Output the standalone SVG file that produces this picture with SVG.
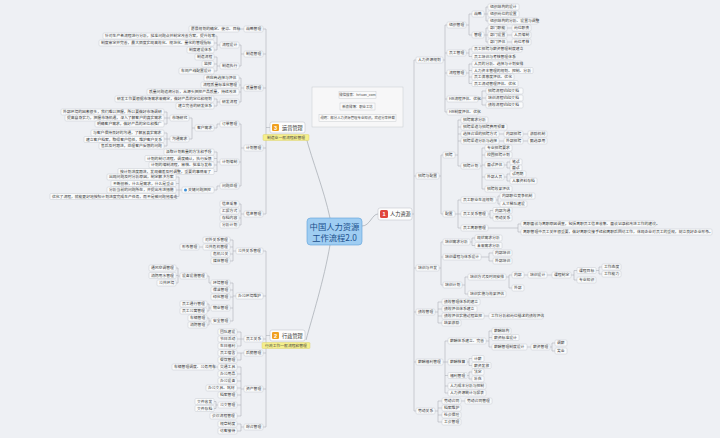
<svg xmlns="http://www.w3.org/2000/svg" width="720" height="438" viewBox="0 0 720 438">
<style>
.nd rect{fill:#fafbfc;stroke:#c2c6cd;stroke-width:.45}
.nd text{font-family:"Noto Sans CJK SC","Noto Sans",sans-serif;font-size:3.8px;fill:#333}
.c path{fill:none;stroke:#a2a7af;stroke-width:.5}
.m path{fill:none;stroke:#a2a7af;stroke-width:.7}
.main rect.b{fill:#fdfdfd;stroke:#b8bcc4;stroke-width:.5}
.main text.l{font-family:"Noto Sans CJK SC","Noto Sans",sans-serif;font-size:5.2px;fill:#333}
.main text.i{font-family:"Liberation Sans",sans-serif;font-size:5.5px;font-weight:bold;fill:#fff;text-anchor:middle}
.tag rect{fill:#f5ef8c;stroke:#d6cb5c;stroke-width:.4}
.tag text{font-family:"Noto Sans CJK SC",sans-serif;font-size:3.8px;fill:#444;text-anchor:middle}
.info text{font-family:"Noto Sans CJK SC","Noto Sans",sans-serif;font-size:3.4px;fill:#444;text-anchor:middle}
.info rect.r{fill:#fafafa;stroke:#bfc3c9;stroke-width:.4}
</style>
<rect width="720" height="438" fill="#eef0f4"/>

<g class="m">
<path d="M330 218C324 190 312 160 306 137"/>
<path d="M330 245C324 280 312 318 306 340"/>
<path d="M362 226C370 226 372 214 378 214"/>
</g>

<g class="c">
<!-- right: 人力资源 -->
<path d="M412 214H414M414 60V411M414 60H416M414 176H416M414 268H416M414 312H416M414 362H416M414 411H416"/>
<path d="M443 60H445M445 25V112M445 25H447M445 53H447M445 73H447M445 99H447M445 112H447"/>
<path d="M466 25H469M469 14V35M469 14H472M469 35H472"/>
<path d="M484 14H488M486 7V21M486 7H488M486 21H488"/>
<path d="M484 35H488M486 28V42M486 28H488M486 42H488"/>
<path d="M507 28H512M507 35H512M507 42H512"/>
<path d="M466 53H469M469 49V56.5M469 49H472M469 56.5H472"/>
<path d="M466 73H469M469 64V83.5M469 64H472M469 70.5H472M469 77H472M469 83.5H472"/>
<path d="M478 99H482M482 91V105M482 91H486M482 98H486M482 105H486"/>
<path d="M439 176H441M441 155V214M441 155H443M441 214H443"/>
<path d="M455 155H458M458 120V166M458 120H461M458 127H461M458 134H461M458 141H461M458 166H461"/>
<path d="M499 134H504M523 134H528M499 141H504M523 141H528"/>
<path d="M480 166H482M482 148V189M482 148H485M482 155H485M482 165H485M482 177H485M482 189H485"/>
<path d="M504 165H507M507 162V168M507 162H510M507 168H510"/>
<path d="M504 177H507M507 174V181M507 174H510M507 181H510"/>
<path d="M455 214H458M458 200V228M458 200H461M458 214H461M458 228H461"/>
<path d="M496 200H498M498 196V204M498 196H500M498 204H500"/>
<path d="M488 214H490M490 210.5V218M490 210.5H493M490 218H493"/>
<path d="M488 228H518M518 224V232M518 224H521M518 232H521"/>
<path d="M439 268H441M441 242V285M441 242H443M441 257H443M441 285H443"/>
<path d="M470 242H472M472 238V245.5M472 238H475M472 245.5H475"/>
<path d="M481 257H489M489 253V261M489 253H493M489 261H493"/>
<path d="M462 285H465M465 277V294M465 277H468M465 294H468"/>
<path d="M506 277H509M509 275V288M509 275H512M509 288H512"/>
<path d="M524 275H528M547 275H552M571 275H574M574 270.5V280M574 270.5H577M574 280H577"/>
<path d="M596 270.5H599M599 267V274M599 267H602M599 274H602"/>
<path d="M435 312H438M438 302V323M438 302H442M438 309H442M438 316H442M438 323H442M484 316H489"/>
<path d="M443 362H445M445 341V393M445 341H448M445 362H448M445 375.5H448M445 386H448M445 393H448"/>
<path d="M486 341H489M489 331V347M489 331H492M489 337.5H492M489 347H492M527 347H531"/>
<path d="M550 347H552M552 343V351M552 343H555M552 351H555"/>
<path d="M467 362H469M469 358.5V365.5M469 358.5H472M469 365.5H472"/>
<path d="M467 375.5H469M469 372V379M469 372H472M469 379H472"/>
<path d="M435 411H438M438 401V422M438 401H442M438 408H442M438 415H442M438 422H442M461 401H465"/>
<!-- left: 运营管理 -->
<path d="M270 127.5H266M266 29V214M266 29H263M266 54H263M266 88H263M266 148H263M266 214H263"/>
<path d="M244 29H239"/>
<path d="M244 54H241M241 45V66M241 45H239M241 66H239"/>
<path d="M220 45H217M217 36V50M217 36H214M217 43H214M217 50H214"/>
<path d="M220 66H217M217 57V71M217 57H214M217 64H214M217 71H214"/>
<path d="M244 88H241M241 78V102M241 78H239M241 85H239M241 92H239M241 102H239"/>
<path d="M220 102H217M217 99V106M217 99H214M217 106H214"/>
<path d="M244 148H241M241 124V186M241 124H239M241 162H239M241 186H239"/>
<path d="M220 124H217M217 124V128M217 128H214"/>
<path d="M195 128H192M192 118V139M192 118H189M192 139H189"/>
<path d="M170 118H164M167 112V124M167 112H164M167 124H164"/>
<path d="M170 139H164M167 133V146M167 133H164M167 146H164"/>
<path d="M220 162H217M217 152V171.5M217 152H214M217 158.5H214M217 165H214M217 171.5H214"/>
<path d="M220 186H217M217 186V190M217 190H214"/>
<path d="M182 190H176M179 177V196.5M179 177H176M179 183.5H176M179 196.5H176"/>
<path d="M244 214H241M241 204V225M241 204H239M241 211H239M241 218H239M241 225H239"/>
<!-- left: 行政管理 -->
<path d="M270 335.5H266M266 251V427M266 251H263M266 296H263M266 339H263M266 353H263M266 389H263M266 427H263"/>
<path d="M236 251H233M233 240V261M233 240H230M233 247H230M233 254H230M233 261H230M203 247H199"/>
<path d="M236 296H233M233 283V321M233 283H230M233 290H230M233 297H230M233 308H230M233 321H230"/>
<path d="M211 283H209M209 283V276M209 276H207"/>
<path d="M180 276H178M178 268V283M178 268H176M178 275.5H176M178 283H176"/>
<path d="M211 308H209M209 304V311M209 304H207M209 311H207"/>
<path d="M211 321H209M209 318V325M209 318H207M209 325H207"/>
<path d="M244 339H241M241 332V346M241 332H237M241 339H237M241 346H237"/>
<path d="M244 353H237M241 353V360M241 360H237"/>
<path d="M244 389H241M241 367V416M241 367H237M241 374H237M241 381H237M241 388H237M241 395H237M241 405H237M241 416H237M218 367H214"/>
<path d="M218 405H216M216 401.5V408.5M216 401.5H214M216 408.5H214"/>
<path d="M244 427H241M241 424V431M241 424H237M241 431H237"/>
</g>

<g id="center">
<rect x="307" y="218" width="55" height="27" rx="3.5" fill="#9fcdf2" stroke="#5c9fd8" stroke-width=".6"/>
<text x="334.5" y="230" font-family="Noto Sans CJK SC,sans-serif" font-size="8.3" fill="#1b4f8c" text-anchor="middle">中国人力资源</text>
<text x="334.5" y="240.5" font-family="Noto Sans CJK SC,sans-serif" font-size="8.3" fill="#1b4f8c" text-anchor="middle">工作流程2.0</text>
</g>

<g id="info" class="info">
<rect x="312" y="87" width="91" height="40" fill="#f7f7f8" stroke="#c6c9ce" stroke-width=".5"/>
<rect class="r" x="339" y="91.5" width="37" height="7"/><text x="357.5" y="96.3">微信搜索：hrtuan_com</text>
<rect class="r" x="340" y="103" width="35" height="7"/><text x="357.5" y="107.8">新浪微博：职业工坊</text>
<rect class="r" x="319" y="114.5" width="77" height="7"/><text x="357.5" y="119.3">说明：部分人力资源管理专业知识，欢迎分享转载</text>
</g>

<g id="hr" class="main">
<rect class="b" x="378" y="208" width="34" height="12" rx="2"/>
<rect x="380" y="210" width="8" height="8" rx="1.5" fill="#e0463c"/>
<text class="i" x="384" y="216">1</text>
<text class="l" x="390" y="216.1">人力资源</text>
</g>
<g id="ops" class="main">
<rect class="b" x="270" y="122" width="35" height="11" rx="2"/>
<rect x="272" y="124" width="7" height="7" rx="1.3" fill="#f0a020"/>
<text class="i" x="275.5" y="129.6">3</text>
<text class="l" x="282" y="129.6">运营管理</text>
</g>
<g id="ops-tag" class="tag"><rect x="263" y="134.5" width="46" height="6" rx="1"/><text x="286" y="138.9">制造业一般流程和管理</text></g>
<g id="adm" class="main">
<rect class="b" x="270" y="330" width="35" height="11" rx="2"/>
<rect x="272" y="332" width="7" height="7" rx="1.3" fill="#f0a020"/>
<text class="i" x="275.5" y="337.6">2</text>
<text class="l" x="282" y="337.6">行政管理</text>
</g>
<g id="adm-tag" class="tag"><rect x="262" y="342.5" width="48" height="6" rx="1"/><text x="286" y="346.9">行政工作一般流程和管理</text></g>

<g class="nd">
<!-- 人力资源规划 -->
<g id="r1"><rect x="416" y="57" width="27" height="6" rx="1"/><text x="418" y="61.35">人力资源规划</text></g>
<g id="r1a"><rect x="447" y="22" width="19" height="6" rx="1"/><text x="449" y="26.35">组织管理</text></g>
<g id="r1a1"><rect x="472" y="11" width="12" height="6" rx="1"/><text x="474" y="15.35">战略</text></g>
<g id="r1a2"><rect x="472" y="32" width="12" height="6" rx="1"/><text x="474" y="36.35">管理</text></g>
<g id="r1a1a"><rect x="488" y="4" width="31" height="6" rx="1"/><text x="490" y="8.35">组织结构的设计</text></g>
<g id="r1a1b"><rect x="488" y="11" width="31" height="6" rx="1"/><text x="490" y="15.35">组织岗位的设置</text></g>
<g id="r1a1c"><rect x="488" y="18" width="50" height="6" rx="1"/><text x="490" y="22.35">组织结构的分析、设置与调整</text></g>
<g id="r1a2a"><rect x="488" y="25" width="19" height="6" rx="1"/><text x="490" y="29.35">部门职能</text></g>
<g id="r1a2a1"><rect x="512" y="25" width="19" height="6" rx="1"/><text x="514" y="29.35">岗位职责</text></g>
<g id="r1a2b"><rect x="488" y="32" width="19" height="6" rx="1"/><text x="490" y="36.35">部门设置</text></g>
<g id="r1a2b1"><rect x="512" y="32" width="19" height="6" rx="1"/><text x="514" y="36.35">人员编制</text></g>
<g id="r1a2c"><rect x="488" y="39" width="19" height="6" rx="1"/><text x="490" y="43.35">部门评估</text></g>
<g id="r1a2c1"><rect x="512" y="39" width="19" height="6" rx="1"/><text x="514" y="43.35">岗位考核</text></g>
<g id="r1b"><rect x="447" y="50" width="19" height="6" rx="1"/><text x="449" y="54.35">员工管理</text></g>
<g id="r1b1"><rect x="472" y="46" width="50" height="6" rx="1"/><text x="474" y="50.35">员工招聘与薪资管理制度建立</text></g>
<g id="r1b2"><rect x="472" y="53.5" width="42" height="6" rx="1"/><text x="474" y="57.85">员工培训与考核管理体系</text></g>
<g id="r1c"><rect x="447" y="70" width="19" height="6" rx="1"/><text x="449" y="74.35">流程管理</text></g>
<g id="r1c1"><rect x="472" y="61" width="50" height="6" rx="1"/><text x="474" y="65.35">人员的分析、选择与计划安排</text></g>
<g id="r1c2"><rect x="472" y="67.5" width="61" height="6" rx="1"/><text x="474" y="71.85">人力资本管理的规划、控制、分析</text></g>
<g id="r1c3"><rect x="472" y="74" width="42" height="6" rx="1"/><text x="474" y="78.35">员工满意度评估、优化</text></g>
<g id="r1c4"><rect x="472" y="80.5" width="46" height="6" rx="1"/><text x="474" y="84.85">员工流动管理评估、优化</text></g>
<g id="r1d"><rect x="447" y="96" width="31" height="6" rx="1"/><text x="449" y="100.35">HR流程评估、优化</text></g>
<g id="r1d1"><rect x="486" y="88" width="37" height="6" rx="1"/><text x="488" y="92.35">招聘流程visio文档</text></g>
<g id="r1d2"><rect x="486" y="95" width="37" height="6" rx="1"/><text x="488" y="99.35">培训流程visio文档</text></g>
<g id="r1d3"><rect x="486" y="102" width="37" height="6" rx="1"/><text x="488" y="106.35">绩效流程visio文档</text></g>
<g id="r1e"><rect x="447" y="109" width="31" height="6" rx="1"/><text x="449" y="113.35">HR制度评估、优化</text></g>
<!-- 招聘与配置 -->
<g id="r2"><rect x="416" y="173" width="23" height="6" rx="1"/><text x="418" y="177.35">招聘与配置</text></g>
<g id="r2a"><rect x="443" y="152" width="12" height="6" rx="1"/><text x="445" y="156.35">招聘</text></g>
<g id="r2a1"><rect x="461" y="117" width="27" height="6" rx="1"/><text x="463" y="121.35">招聘需求分析</text></g>
<g id="r2a2"><rect x="461" y="124" width="46" height="6" rx="1"/><text x="463" y="128.35">招聘渠道与招聘费用预算</text></g>
<g id="r2a3"><rect x="461" y="131" width="38" height="6" rx="1"/><text x="463" y="135.35">选择合适的招聘方式</text></g>
<g id="r2a3a"><rect x="504" y="131" width="19" height="6" rx="1"/><text x="506" y="135.35">内部招聘</text></g>
<g id="r2a3b"><rect x="528" y="131" width="19" height="6" rx="1"/><text x="530" y="135.35">激励机制</text></g>
<g id="r2a4"><rect x="461" y="138" width="38" height="6" rx="1"/><text x="463" y="142.35">招聘渠道分析与选择</text></g>
<g id="r2a4a"><rect x="504" y="138" width="19" height="6" rx="1"/><text x="506" y="142.35">外部招聘</text></g>
<g id="r2a4b"><rect x="528" y="138" width="19" height="6" rx="1"/><text x="530" y="142.35">甄选录用</text></g>
<g id="r2a5"><rect x="461" y="163" width="19" height="6" rx="1"/><text x="463" y="167.35">招聘计划</text></g>
<g id="r2a5a"><rect x="485" y="145" width="27" height="6" rx="1"/><text x="487" y="149.35">专业招聘要求</text></g>
<g id="r2a5b"><rect x="485" y="152" width="27" height="6" rx="1"/><text x="487" y="156.35">校园招聘计划</text></g>
<g id="r2a5c"><rect x="485" y="162" width="19" height="6" rx="1"/><text x="487" y="166.35">面试评估</text></g>
<g id="r2a5c1"><rect x="510" y="159" width="12" height="6" rx="1"/><text x="512" y="163.35">笔试</text></g>
<g id="r2a5c2"><rect x="510" y="165" width="12" height="6" rx="1"/><text x="512" y="169.35">面试</text></g>
<g id="r2a5d"><rect x="485" y="174" width="19" height="6" rx="1"/><text x="487" y="178.35">外部人员</text></g>
<g id="r2a5d1"><rect x="510" y="171" width="16" height="6" rx="1"/><text x="512" y="175.35">试用期</text></g>
<g id="r2a5d2"><rect x="510" y="178" width="27" height="6" rx="1"/><text x="512" y="182.35">人事资料存档</text></g>
<g id="r2a5e"><rect x="485" y="186" width="27" height="6" rx="1"/><text x="487" y="190.35">招聘效果评估</text></g>
<g id="r2b"><rect x="443" y="211" width="12" height="6" rx="1"/><text x="445" y="215.35">配置</text></g>
<g id="r2b1"><rect x="461" y="197" width="35" height="6" rx="1"/><text x="463" y="201.35">员工职业生涯规划</text></g>
<g id="r2b1a"><rect x="500" y="193" width="35" height="6" rx="1"/><text x="502" y="197.35">内部职位竞争机制</text></g>
<g id="r2b1b"><rect x="500" y="201" width="27" height="6" rx="1"/><text x="502" y="205.35">人才梯队建设</text></g>
<g id="r2b2"><rect x="461" y="211" width="27" height="6" rx="1"/><text x="463" y="215.35">员工关系管理</text></g>
<g id="r2b2a"><rect x="493" y="207.5" width="19" height="6" rx="1"/><text x="495" y="211.85">内部沟通</text></g>
<g id="r2b2b"><rect x="493" y="215" width="19" height="6" rx="1"/><text x="495" y="219.35">劳动关系</text></g>
<g id="r2b3"><rect x="461" y="225" width="27" height="6" rx="1"/><text x="463" y="229.35">员工离职管理</text></g>
<g id="r2b3a"><rect x="521" y="221" width="134" height="6" rx="1"/><text x="523" y="225.35">离职面谈与离职原因调查，包括离职员工信息收集、面谈记录和改进工作的建议。</text></g>
<g id="r2b3b"><rect x="521" y="229" width="191" height="6" rx="1"/><text x="523" y="233.35">离职管理中员工关怀很重要，做好离职交接手续和离职后回访工作，体现企业对员工的重视，树立良好企业形象。</text></g>
<!-- 培训与开发 -->
<g id="r3"><rect x="416" y="265" width="23" height="6" rx="1"/><text x="418" y="269.35">培训与开发</text></g>
<g id="r3a"><rect x="443" y="239" width="27" height="6" rx="1"/><text x="445" y="243.35">培训需求分析</text></g>
<g id="r3a1"><rect x="475" y="235" width="27" height="6" rx="1"/><text x="477" y="239.35">现状需求分析</text></g>
<g id="r3a2"><rect x="475" y="242.5" width="27" height="6" rx="1"/><text x="477" y="246.85">未来需求分析</text></g>
<g id="r3b"><rect x="443" y="254" width="38" height="6" rx="1"/><text x="445" y="258.35">培训课程与体系设计</text></g>
<g id="r3b1"><rect x="493" y="250" width="19" height="6" rx="1"/><text x="495" y="254.35">内部培训</text></g>
<g id="r3b2"><rect x="493" y="258" width="19" height="6" rx="1"/><text x="495" y="262.35">外部培训</text></g>
<g id="r3c"><rect x="443" y="282" width="19" height="6" rx="1"/><text x="445" y="286.35">培训计划</text></g>
<g id="r3c1"><rect x="468" y="274" width="38" height="6" rx="1"/><text x="470" y="278.35">培训方式及时间安排</text></g>
<g id="r3c1a"><rect x="512" y="272" width="12" height="6" rx="1"/><text x="514" y="276.35">内部</text></g>
<g id="r3c1b"><rect x="512" y="285" width="12" height="6" rx="1"/><text x="514" y="289.35">外部</text></g>
<g id="r3c1a1"><rect x="528" y="272" width="19" height="6" rx="1"/><text x="530" y="276.35">培训设计</text></g>
<g id="r3c1a2"><rect x="552" y="272" width="19" height="6" rx="1"/><text x="554" y="276.35">课程制定</text></g>
<g id="r3c1a3"><rect x="577" y="267.5" width="19" height="6" rx="1"/><text x="579" y="271.85">课程目标</text></g>
<g id="r3c1a4"><rect x="577" y="277" width="19" height="6" rx="1"/><text x="579" y="281.35">专业知识</text></g>
<g id="r3c1a3a"><rect x="602" y="264" width="19" height="6" rx="1"/><text x="604" y="268.35">工作态度</text></g>
<g id="r3c1a3b"><rect x="602" y="271" width="19" height="6" rx="1"/><text x="604" y="275.35">工作能力</text></g>
<g id="r3c2"><rect x="468" y="291" width="38" height="6" rx="1"/><text x="470" y="295.35">培训实施与效果评估</text></g>
<!-- 绩效管理 -->
<g id="r4"><rect x="416" y="309" width="19" height="6" rx="1"/><text x="418" y="313.35">绩效管理</text></g>
<g id="r4a"><rect x="442" y="299" width="38" height="6" rx="1"/><text x="444" y="303.35">绩效管理体系的建立</text></g>
<g id="r4b"><rect x="442" y="306" width="35" height="6" rx="1"/><text x="444" y="310.35">绩效评估体系建立</text></g>
<g id="r4c"><rect x="442" y="313" width="42" height="6" rx="1"/><text x="444" y="317.35">绩效评估实施过程监控</text></g>
<g id="r4c1"><rect x="489" y="313" width="54" height="6" rx="1"/><text x="491" y="317.35">工作分析和岗位描述的绩效评估</text></g>
<g id="r4d"><rect x="442" y="320" width="19" height="6" rx="1"/><text x="444" y="324.35">结果激励</text></g>
<!-- 薪酬福利管理 -->
<g id="r5"><rect x="416" y="359" width="27" height="6" rx="1"/><text x="418" y="363.35">薪酬福利管理</text></g>
<g id="r5a"><rect x="448" y="338" width="38" height="6" rx="1"/><text x="450" y="342.35">薪酬体系建立、完善</text></g>
<g id="r5a1"><rect x="492" y="328" width="19" height="6" rx="1"/><text x="494" y="332.35">薪酬结构</text></g>
<g id="r5a2"><rect x="492" y="334.5" width="27" height="6" rx="1"/><text x="494" y="338.85">薪资标准设计</text></g>
<g id="r5a3"><rect x="492" y="344" width="35" height="6" rx="1"/><text x="494" y="348.35">薪酬管理制度设计</text></g>
<g id="r5a3a"><rect x="531" y="344" width="19" height="6" rx="1"/><text x="533" y="348.35">薪资管理</text></g>
<g id="r5a3b"><rect x="555" y="340" width="12" height="6" rx="1"/><text x="557" y="344.35">调薪</text></g>
<g id="r5a3c"><rect x="555" y="348" width="12" height="6" rx="1"/><text x="557" y="352.35">奖金</text></g>
<g id="r5b"><rect x="448" y="359" width="19" height="6" rx="1"/><text x="450" y="363.35">薪酬核算</text></g>
<g id="r5b1"><rect x="472" y="355.5" width="12" height="6" rx="1"/><text x="474" y="359.85">计薪</text></g>
<g id="r5b2"><rect x="472" y="362.5" width="19" height="6" rx="1"/><text x="474" y="366.85">薪资发放</text></g>
<g id="r5c"><rect x="448" y="372.5" width="19" height="6" rx="1"/><text x="450" y="376.85">福利管理</text></g>
<g id="r5c1"><rect x="472" y="369" width="12" height="6" rx="1"/><text x="474" y="373.35">法定</text></g>
<g id="r5c2"><rect x="472" y="376" width="12" height="6" rx="1"/><text x="474" y="380.35">补充</text></g>
<g id="r5d"><rect x="448" y="383" width="38" height="6" rx="1"/><text x="450" y="387.35">人力成本分析与控制</text></g>
<g id="r5e"><rect x="448" y="390" width="38" height="6" rx="1"/><text x="450" y="394.35">人力资源统计与报表</text></g>
<!-- 劳动关系 -->
<g id="r6"><rect x="416" y="408" width="19" height="6" rx="1"/><text x="418" y="412.35">劳动关系</text></g>
<g id="r6a"><rect x="442" y="398" width="19" height="6" rx="1"/><text x="444" y="402.35">劳动合同</text></g>
<g id="r6a1"><rect x="465" y="398" width="27" height="6" rx="1"/><text x="467" y="402.35">劳动合同管理</text></g>
<g id="r6b"><rect x="442" y="405" width="19" height="6" rx="1"/><text x="444" y="409.35">档案维护</text></g>
<g id="r6c"><rect x="442" y="412" width="19" height="6" rx="1"/><text x="444" y="416.35">社会保险</text></g>
<g id="r6d"><rect x="442" y="419" width="19" height="6" rx="1"/><text x="444" y="423.35">工会管理</text></g>

<!-- 运营管理 -->
<g id="o1"><rect x="244" y="26" width="19" height="6" rx="1"/><text x="246" y="30.35">战略管理</text></g>
<g id="o1a"><rect x="189" y="26" width="50" height="6" rx="1"/><text x="191" y="30.35">愿景规划的确定、使命、目标</text></g>
<g id="o2"><rect x="244" y="51" width="19" height="6" rx="1"/><text x="246" y="55.35">制造管理</text></g>
<g id="o2a"><rect x="220" y="42" width="19" height="6" rx="1"/><text x="222" y="46.35">流程设计</text></g>
<g id="o2a1"><rect x="103" y="33" width="111" height="6" rx="1"/><text x="105" y="37.35">针对生产各流程进行分析，找准问题点并制定改善方案，提升效率</text></g>
<g id="o2a2"><rect x="99" y="40" width="115" height="6" rx="1"/><text x="101" y="44.35">制度审定并完善，最大限度实现高效化、规范化、量化的管理指标</text></g>
<g id="o2a3"><rect x="187" y="47" width="27" height="6" rx="1"/><text x="189" y="51.35">制度建设体系</text></g>
<g id="o2b"><rect x="220" y="63" width="19" height="6" rx="1"/><text x="222" y="67.35">制造执行</text></g>
<g id="o2b1"><rect x="195" y="54" width="19" height="6" rx="1"/><text x="197" y="58.35">制造流程</text></g>
<g id="o2b2"><rect x="202" y="61" width="12" height="6" rx="1"/><text x="204" y="65.35">监控</text></g>
<g id="o2b3"><rect x="179" y="68" width="35" height="6" rx="1"/><text x="181" y="72.35">车间产线配置设计</text></g>
<g id="o3"><rect x="244" y="85" width="19" height="6" rx="1"/><text x="246" y="89.35">质量管理</text></g>
<g id="o3a"><rect x="204" y="75" width="35" height="6" rx="1"/><text x="206" y="79.35">供应商选择与评估</text></g>
<g id="o3b"><rect x="201" y="82" width="38" height="6" rx="1"/><text x="203" y="86.35">流程质量标准化管理</text></g>
<g id="o3c"><rect x="147" y="89" width="92" height="6" rx="1"/><text x="149" y="93.35">质量问题追溯分析，从源头把控产品质量，持续改进</text></g>
<g id="o3d"><rect x="220" y="99" width="19" height="6" rx="1"/><text x="222" y="103.35">研发流程</text></g>
<g id="o3d1"><rect x="115" y="96" width="99" height="6" rx="1"/><text x="117" y="100.35">研发工作要根据市场需求来确定，做好产品的定位和规划</text></g>
<g id="o3d2"><rect x="176" y="103" width="38" height="6" rx="1"/><text x="178" y="107.35">建立完善的研发体系</text></g>
<g id="o4"><rect x="244" y="145" width="19" height="6" rx="1"/><text x="246" y="149.35">计划管理</text></g>
<g id="o4a"><rect x="220" y="121" width="19" height="6" rx="1"/><text x="222" y="125.35">订单管理</text></g>
<g id="o4a1"><rect x="195" y="125" width="19" height="6" rx="1"/><text x="197" y="129.35">客户需求</text></g>
<g id="o4a1a"><rect x="170" y="115" width="19" height="6" rx="1"/><text x="172" y="119.35">市场研究</text></g>
<g id="o4a1a1"><rect x="61" y="109" width="103" height="6" rx="1"/><text x="63" y="113.35">外部环境的因素很多，我们难以把握，所以要做好市场调研</text></g>
<g id="o4a1a2"><rect x="65" y="115" width="99" height="6" rx="1"/><text x="67" y="119.35">提高自身实力，把握市场机遇，深入了解客户的真实需求</text></g>
<g id="o4a1a3"><rect x="95" y="121" width="69" height="6" rx="1"/><text x="97" y="125.35">明确客户需求，做好产品的定位和推广</text></g>
<g id="o4a1b"><rect x="170" y="136" width="19" height="6" rx="1"/><text x="172" y="140.35">沟通需求</text></g>
<g id="o4a1b1"><rect x="91" y="130" width="73" height="6" rx="1"/><text x="93" y="134.35">与客户保持良好的沟通，了解其真实需求</text></g>
<g id="o4a1b2"><rect x="84" y="136.5" width="80" height="6" rx="1"/><text x="86" y="140.85">建立客户档案，取得客户信任，维护客户关系</text></g>
<g id="o4a1b3"><rect x="99" y="143" width="65" height="6" rx="1"/><text x="101" y="147.35">售后及时跟进，处理客户反馈的问题</text></g>
<g id="o4b"><rect x="220" y="159" width="19" height="6" rx="1"/><text x="222" y="163.35">计划编制</text></g>
<g id="o4b1"><rect x="164" y="149" width="50" height="6" rx="1"/><text x="166" y="153.35">汲取计划数量的方法和手段</text></g>
<g id="o4b2"><rect x="145" y="155.5" width="69" height="6" rx="1"/><text x="147" y="159.85">计划的制订流程，调度确认，执行反馈</text></g>
<g id="o4b3"><rect x="149" y="162" width="65" height="6" rx="1"/><text x="151" y="166.35">计划的编制流程，审核、批准与发布</text></g>
<g id="o4b4"><rect x="118" y="168.5" width="96" height="6" rx="1"/><text x="120" y="172.85">按计划进度跟进，发现偏差及时调整，重要的事情来了</text></g>
<g id="o4c"><rect x="220" y="183" width="19" height="6" rx="1"/><text x="222" y="187.35">问题处理</text></g>
<g id="o4c1"><rect x="182" y="187" width="32" height="6" rx="1"/><circle cx="185.5" cy="190" r="1.5" fill="#3b8fd9"/><text x="188" y="191.35">关键问题把控</text></g>
<g id="o4c1a"><rect x="107" y="174" width="69" height="6" rx="1"/><text x="109" y="178.35">出现问题及时分析原因，制定解决方案</text></g>
<g id="o4c1b"><rect x="111" y="180.5" width="65" height="6" rx="1"/><text x="113" y="184.85">不断创新，什么是需求，什么是重点</text></g>
<g id="o4c1c"><rect x="107" y="187" width="69" height="6" rx="1"/><text x="109" y="191.35">分析当前的问题所在，并提出改进措施</text></g>
<g id="o4c1d"><rect x="50" y="193.5" width="126" height="6" rx="1"/><text x="52" y="197.85">优化了流程，就能更好地按照计划进度完成生产任务，而不是被问题拖着走</text></g>
<g id="o5"><rect x="244" y="211" width="19" height="6" rx="1"/><text x="246" y="215.35">信息管理</text></g>
<g id="o5a"><rect x="220" y="201" width="19" height="6" rx="1"/><text x="222" y="205.35">信息采集</text></g>
<g id="o5b"><rect x="220" y="208" width="19" height="6" rx="1"/><text x="222" y="212.35">汇报方式</text></g>
<g id="o5c"><rect x="220" y="215" width="19" height="6" rx="1"/><text x="222" y="219.35">存档内容</text></g>
<g id="o5d"><rect x="220" y="222" width="19" height="6" rx="1"/><text x="222" y="226.35">分析计划</text></g>

<!-- 行政管理 -->
<g id="x1"><rect x="236" y="248" width="27" height="6" rx="1"/><text x="238" y="252.35">公共关系管理</text></g>
<g id="x1a"><rect x="203" y="237" width="27" height="6" rx="1"/><text x="205" y="241.35">对外关系管理</text></g>
<g id="x1b"><rect x="203" y="244" width="27" height="6" rx="1"/><text x="205" y="248.35">公共危机管理</text></g>
<g id="x1b1"><rect x="180" y="244" width="19" height="6" rx="1"/><text x="182" y="248.35">形象管理</text></g>
<g id="x1c"><rect x="211" y="251" width="19" height="6" rx="1"/><text x="213" y="255.35">危机公关</text></g>
<g id="x1d"><rect x="211" y="258" width="19" height="6" rx="1"/><text x="213" y="262.35">媒体管理</text></g>
<g id="x2"><rect x="236" y="293" width="27" height="6" rx="1"/><text x="238" y="297.35">办公环境维护</text></g>
<g id="x2a"><rect x="211" y="280" width="19" height="6" rx="1"/><text x="213" y="284.35">环境管理</text></g>
<g id="x2a1"><rect x="180" y="273" width="27" height="6" rx="1"/><text x="182" y="277.35">设备设施管理</text></g>
<g id="x2a1a"><rect x="149" y="265" width="27" height="6" rx="1"/><text x="151" y="269.35">通风空调管理</text></g>
<g id="x2a1b"><rect x="149" y="272.5" width="27" height="6" rx="1"/><text x="151" y="276.85">消防用水管理</text></g>
<g id="x2a1c"><rect x="157" y="280" width="19" height="6" rx="1"/><text x="159" y="284.35">公共环境</text></g>
<g id="x2b"><rect x="211" y="287" width="19" height="6" rx="1"/><text x="213" y="291.35">保洁管理</text></g>
<g id="x2c"><rect x="211" y="294" width="19" height="6" rx="1"/><text x="213" y="298.35">绿化管理</text></g>
<g id="x2d"><rect x="211" y="305" width="19" height="6" rx="1"/><text x="213" y="309.35">物业管理</text></g>
<g id="x2d1"><rect x="180" y="301" width="27" height="6" rx="1"/><text x="182" y="305.35">员工通行管理</text></g>
<g id="x2d2"><rect x="180" y="308" width="27" height="6" rx="1"/><text x="182" y="312.35">员工公寓管理</text></g>
<g id="x2e"><rect x="211" y="318" width="19" height="6" rx="1"/><text x="213" y="322.35">安全管理</text></g>
<g id="x2e1"><rect x="188" y="315" width="19" height="6" rx="1"/><text x="190" y="319.35">车辆管理</text></g>
<g id="x2e2"><rect x="188" y="322" width="19" height="6" rx="1"/><text x="190" y="326.35">消防管理</text></g>
<g id="x3"><rect x="244" y="336" width="19" height="6" rx="1"/><text x="246" y="340.35">员工关系</text></g>
<g id="x3a"><rect x="218" y="329" width="19" height="6" rx="1"/><text x="220" y="333.35">团队建设</text></g>
<g id="x3b"><rect x="218" y="336" width="19" height="6" rx="1"/><text x="220" y="340.35">节日活动</text></g>
<g id="x3c"><rect x="218" y="343" width="19" height="6" rx="1"/><text x="220" y="347.35">生日福利</text></g>
<g id="x4"><rect x="244" y="350" width="19" height="6" rx="1"/><text x="246" y="354.35">后勤管理</text></g>
<g id="x4a"><rect x="218" y="350" width="19" height="6" rx="1"/><text x="220" y="354.35">员工宿舍</text></g>
<g id="x4b"><rect x="218" y="357" width="19" height="6" rx="1"/><text x="220" y="361.35">餐饮管理</text></g>
<g id="x5"><rect x="244" y="386" width="19" height="6" rx="1"/><text x="246" y="390.35">资产管理</text></g>
<g id="x5a"><rect x="218" y="364" width="19" height="6" rx="1"/><text x="220" y="368.35">交通工具</text></g>
<g id="x5a1"><rect x="172" y="364" width="42" height="6" rx="1"/><text x="174" y="368.35">车辆管理调度、公务用车</text></g>
<g id="x5b"><rect x="218" y="371" width="19" height="6" rx="1"/><text x="220" y="375.35">办公用品</text></g>
<g id="x5c"><rect x="218" y="378" width="19" height="6" rx="1"/><text x="220" y="382.35">办公设备</text></g>
<g id="x5d"><rect x="206" y="385" width="31" height="6" rx="1"/><text x="208" y="389.35">办公文具、耗材</text></g>
<g id="x5e"><rect x="218" y="392" width="19" height="6" rx="1"/><text x="220" y="396.35">档案管理</text></g>
<g id="x5f"><rect x="218" y="402" width="19" height="6" rx="1"/><text x="220" y="406.35">公文管理</text></g>
<g id="x5f1"><rect x="195" y="398.5" width="19" height="6" rx="1"/><text x="197" y="402.85">文件收发</text></g>
<g id="x5f2"><rect x="195" y="405.5" width="19" height="6" rx="1"/><text x="197" y="409.85">文件存档</text></g>
<g id="x5g"><rect x="210" y="413" width="27" height="6" rx="1"/><text x="212" y="417.35">会议流程管理</text></g>
<g id="x6"><rect x="244" y="424" width="19" height="6" rx="1"/><text x="246" y="428.35">综合管理</text></g>
<g id="x6a"><rect x="218" y="421" width="19" height="6" rx="1"/><text x="220" y="425.35">规章制度</text></g>
<g id="x6b"><rect x="218" y="428" width="19" height="6" rx="1"/><text x="220" y="432.35">访客接待</text></g>
</g>
</svg>
